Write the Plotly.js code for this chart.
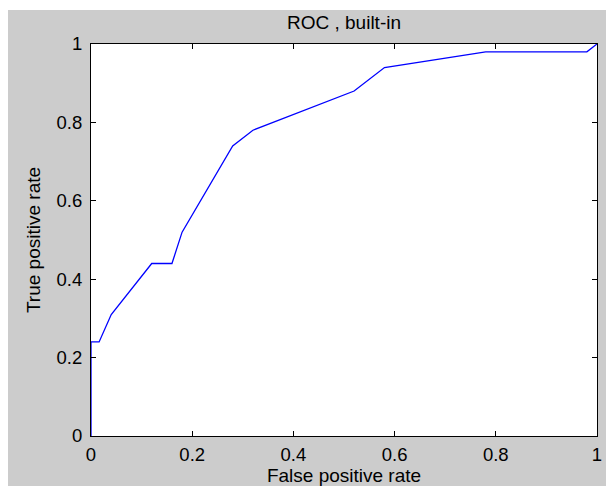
<!DOCTYPE html>
<html>
<head>
<meta charset="utf-8">
<script src="https://cdn.plot.ly/plotly-3.0.1.min.js"></script>
<style>
html,body{margin:0;padding:0;background:#ffffff;width:606px;height:486px;overflow:hidden;}
#chart{position:absolute;left:8px;top:10px;width:598px;height:476px;}
</style>
</head>
<body>
<div id="chart"></div>
<script>
const fpr = [0, 0, 0.016, 0.04, 0.12, 0.16, 0.18, 0.28, 0.32, 0.52, 0.58, 0.78, 0.98, 1];
const tpr = [0, 0.24, 0.24, 0.31, 0.44, 0.44, 0.52, 0.74, 0.78, 0.88, 0.94, 0.98, 0.98, 1];
const tickVals = [0, 0.2, 0.4, 0.6, 0.8, 1];
const tickText = ['0', '0.2', '0.4', '0.6', '0.8', '1'];

const fam = '"Liberation Sans", Arial, sans-serif';
const tickFont = {family: fam, size: 18.5, color: '#000000'};
const titleFont = {family: fam, size: 19, color: '#000000'};
const labelFont = {family: fam, size: 19, color: '#000000'};
const axisCommon = {
  range: [0, 1],
  tickmode: 'array',
  tickvals: tickVals,
  ticktext: tickText,
  ticks: 'inside',
  ticklen: 5,
  tickwidth: 1,
  tickcolor: '#000000',
  showline: true,
  linecolor: '#000000',
  linewidth: 1,
  mirror: 'ticks',
  showgrid: false,
  zeroline: false,
  tickfont: tickFont,
  fixedrange: true
};

Plotly.newPlot('chart', [{
  x: fpr, y: tpr, type: 'scatter', mode: 'lines',
  line: {color: '#0000ff', width: 1.3},
  hoverinfo: 'none'
}], {
  width: 598, height: 476,
  margin: {l: 83, r: 9, t: 34, b: 50},
  paper_bgcolor: '#cccccc',
  plot_bgcolor: '#ffffff',
  showlegend: false,
  title: {text: 'ROC , built-in', font: titleFont, xref: 'paper', x: 0.5, xanchor: 'center', y: 0.975, yanchor: 'middle'},
  xaxis: Object.assign({}, axisCommon, {
    title: {text: 'False positive rate', font: labelFont, standoff: 2},
    ticklabelstandoff: 2
  }),
  yaxis: Object.assign({}, axisCommon, {
    title: {text: 'True positive rate', font: labelFont, standoff: 10},
    ticklabelstandoff: 4
  })
}, {staticPlot: true});
</script>
</body>
</html>
